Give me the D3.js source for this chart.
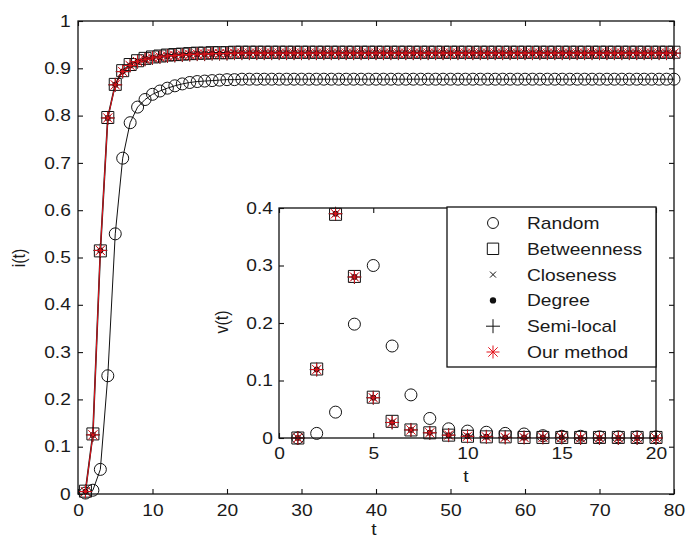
<!DOCTYPE html>
<html>
<head>
<meta charset="utf-8">
<script src="https://cdn.jsdelivr.net/npm/d3@7"></script>
<style>
body { margin: 0; background: #fff; }
text { font-family: "Liberation Sans", Arial, Helvetica, sans-serif; fill: #1a1a1a; }
</style>
</head>
<body>
<svg id="chart"></svg>
<script>
const width = 687;
const height = 540;
const SX = 1.2; // the glyphs in the figure are stretched sideways
const red = "#e3141c";

// ---- data ----
const tMain = [1, 2, 3, 4, 5, 6, 7, 8, 9, 10, 11, 12, 13, 14, 15, 16, 17, 18, 19, 20,
    21, 22, 23, 24, 25, 26, 27, 28, 29, 30, 31, 32, 33, 34, 35, 36, 37, 38, 39, 40,
    41, 42, 43, 44, 45, 46, 47, 48, 49, 50, 51, 52, 53, 54, 55, 56, 57, 58, 59, 60,
    61, 62, 63, 64, 65, 66, 67, 68, 69, 70, 71, 72, 73, 74, 75, 76, 77, 78, 79, 80];

const iRandom = [0.002, 0.008, 0.052, 0.250, 0.550, 0.710, 0.785, 0.818, 0.834, 0.845,
    0.852, 0.858, 0.863, 0.867, 0.870, 0.872, 0.873, 0.874, 0.875, 0.876,
    0.876, 0.877, 0.877, 0.877, 0.877, 0.877, 0.877, 0.877, 0.877, 0.877,
    0.877, 0.877, 0.877, 0.877, 0.877, 0.877, 0.877, 0.877, 0.877, 0.877,
    0.877, 0.877, 0.877, 0.877, 0.877, 0.877, 0.877, 0.877, 0.877, 0.877,
    0.877, 0.877, 0.877, 0.877, 0.877, 0.877, 0.877, 0.877, 0.877, 0.877,
    0.877, 0.877, 0.877, 0.877, 0.877, 0.877, 0.877, 0.877, 0.877, 0.877,
    0.877, 0.877, 0.877, 0.877, 0.877, 0.877, 0.877, 0.877, 0.877, 0.877];

const iBetween = [0.006, 0.127, 0.514, 0.796, 0.866, 0.895, 0.908, 0.916, 0.921, 0.924,
    0.926, 0.928, 0.929, 0.930, 0.931, 0.932, 0.932, 0.933, 0.933, 0.933,
    0.934, 0.934, 0.934, 0.934, 0.934, 0.934, 0.934, 0.934, 0.934, 0.934,
    0.934, 0.934, 0.934, 0.934, 0.934, 0.934, 0.934, 0.934, 0.934, 0.934,
    0.934, 0.934, 0.934, 0.934, 0.934, 0.934, 0.934, 0.934, 0.934, 0.934,
    0.934, 0.934, 0.934, 0.934, 0.934, 0.934, 0.934, 0.934, 0.934, 0.934,
    0.934, 0.934, 0.934, 0.934, 0.934, 0.934, 0.934, 0.934, 0.934, 0.934,
    0.934, 0.934, 0.934, 0.934, 0.934, 0.934, 0.934, 0.934, 0.934, 0.934];

// closeness, degree, semi-local and our method cannot be told apart in the figure
const iOurs = [0.005, 0.125, 0.515, 0.795, 0.865, 0.893, 0.906, 0.914, 0.919, 0.922,
    0.924, 0.926, 0.927, 0.928, 0.929, 0.930, 0.930, 0.931, 0.931, 0.931,
    0.932, 0.932, 0.932, 0.932, 0.932, 0.932, 0.932, 0.932, 0.932, 0.932,
    0.932, 0.932, 0.932, 0.932, 0.932, 0.932, 0.932, 0.932, 0.932, 0.932,
    0.932, 0.932, 0.932, 0.932, 0.932, 0.932, 0.932, 0.932, 0.932, 0.932,
    0.932, 0.932, 0.932, 0.932, 0.932, 0.932, 0.932, 0.932, 0.932, 0.932,
    0.932, 0.932, 0.932, 0.932, 0.932, 0.932, 0.932, 0.932, 0.932, 0.932,
    0.932, 0.932, 0.932, 0.932, 0.932, 0.932, 0.932, 0.932, 0.932, 0.932];

const tInset = [1, 2, 3, 4, 5, 6, 7, 8, 9, 10, 11, 12, 13, 14, 15, 16, 17, 18, 19, 20];
const vRandom = [0, 0.008, 0.045, 0.198, 0.300, 0.160, 0.075, 0.034, 0.016, 0.012,
    0.010, 0.008, 0.007, 0.004, 0.003, 0.003, 0.002, 0.002, 0.002, 0.002];
const vBetween = [0, 0.120, 0.389, 0.281, 0.071, 0.029, 0.014, 0.009, 0.005, 0.003,
    0.002, 0.002, 0.001, 0.001, 0.001, 0.001, 0.001, 0.001, 0.001, 0.001];
const vOurs = [0, 0.119, 0.390, 0.280, 0.070, 0.027, 0.014, 0.009, 0.005, 0.003,
    0.002, 0.001, 0.001, 0.001, 0.001, 0, 0, 0, 0, 0];

const mainXTicks = [0, 10, 20, 30, 40, 50, 60, 70, 80];
const mainYTicks = [0, 0.1, 0.2, 0.3, 0.4, 0.5, 0.6, 0.7, 0.8, 0.9, 1];
const insetXTicks = [0, 5, 10, 15, 20];
const insetYTicks = [0, 0.1, 0.2, 0.3, 0.4];
const legendNames = ["Random", "Betweenness", "Closeness", "Degree", "Semi-local", "Our method"];

// ---- marker shapes ----
function plusPath(s) { return `M${-s},0H${s}M0,${-s}V${s}`; }
function timesPath(s) { return `M${-s},${-s}L${s},${s}M${-s},${s}L${s},${-s}`; }
function starPath(s) { const d = s * 0.72; return plusPath(s) + timesPath(d); }

const markers = [
    { name: "Random", path: d3.symbol(d3.symbolCircle, Math.PI * 36)(), fill: "none", stroke: "#111" },
    { name: "Betweenness", path: d3.symbol(d3.symbolSquare, 144)(), fill: "none", stroke: "#111" },
    { name: "Closeness", path: timesPath(3.2), fill: "none", stroke: "#111" },
    { name: "Degree", path: d3.symbol(d3.symbolCircle, Math.PI * 9)(), fill: "#111", stroke: "none" },
    { name: "Semi-local", path: plusPath(7), fill: "none", stroke: "#111" },
    { name: "Our method", path: starPath(6.5), fill: "none", stroke: red }
];

const svg = d3.select("#chart").attr("width", width).attr("height", height);
svg.append("rect").attr("width", width).attr("height", height).attr("fill", "#fff");

function drawAxes(g, x, y, xt, yt, fmtY, xPad, yPad) {
    const [x0, x1] = x.range();
    const [y0, y1] = y.range();
    g.append("g").attr("transform", `translate(0,${y0})`)
        .call(d3.axisBottom(x).tickValues(xt).tickSizeInner(-5).tickSizeOuter(0).tickPadding(xPad))
        .call(a => a.select(".domain").remove());
    g.append("g").attr("transform", `translate(0,${y1})`)
        .call(d3.axisTop(x).tickValues(xt).tickSizeInner(-5).tickSizeOuter(0).tickFormat(""))
        .call(a => a.select(".domain").remove());
    g.append("g").attr("transform", `translate(${x0},0)`)
        .call(d3.axisLeft(y).tickValues(yt).tickSizeInner(-5).tickSizeOuter(0).tickPadding(yPad).tickFormat(fmtY))
        .call(a => a.select(".domain").remove());
    g.append("g").attr("transform", `translate(${x1},0)`)
        .call(d3.axisRight(y).tickValues(yt).tickSizeInner(-5).tickSizeOuter(0).tickFormat(""))
        .call(a => a.select(".domain").remove());
    g.selectAll(".tick line").attr("stroke", "#111").attr("stroke-width", 1.1);
    g.selectAll(".tick text")
        .attr("font-size", 16)
        .attr("font-family", null)
        .attr("fill", "#1a1a1a")
        .attr("transform", `scale(${SX},1)`);
    g.append("rect")
        .attr("x", x0).attr("y", y1)
        .attr("width", x1 - x0).attr("height", y0 - y1)
        .attr("fill", "none").attr("stroke", "#111").attr("stroke-width", 1.3);
}

function label(g, txt, px, py, rotated) {
    const t = g.append("g")
        .attr("transform", `translate(${px},${py})` + (rotated ? " rotate(-90)" : ""))
        .append("text")
        .attr("text-anchor", "middle")
        .attr("font-size", 16)
        .attr("transform", rotated ? `scale(1,${SX})` : `scale(${SX},1)`)
        .text(txt);
    return t;
}

function drawSeries(g, x, y, ts, vals, m) {
    g.append("g").selectAll("path").data(ts).enter()
        .append("path")
        .attr("transform", (d, i) => `translate(${x(d)},${y(vals[i])})`)
        .attr("d", m.path)
        .attr("fill", m.fill)
        .attr("stroke", m.stroke)
        .attr("stroke-width", 1);
}

// ---- main plot ----
const x = d3.scaleLinear().domain([0, 80]).range([78, 674]);
const y = d3.scaleLinear().domain([0, 1]).range([494, 21]);
const fmtMain = d => (d === 0 || d === 1) ? String(d) : d.toFixed(1);

const main = svg.append("g");
const line = (vals) => d3.line().x((d, i) => x(tMain[i])).y(d => y(d))(vals);

main.append("path").attr("d", line(iRandom)).attr("fill", "none").attr("stroke", "#111").attr("stroke-width", 1);
main.append("path").attr("d", line(iBetween)).attr("fill", "none").attr("stroke", "#111").attr("stroke-width", 1.6);
main.append("path").attr("d", line(iOurs)).attr("fill", "none").attr("stroke", red).attr("stroke-width", 1);

const mainSets = [iRandom, iBetween, iOurs, iOurs, iOurs, iOurs];
markers.forEach((m, k) => drawSeries(main, x, y, tMain, mainSets[k], m));

drawAxes(main, x, y, mainXTicks, mainYTicks, fmtMain, 11, 6);
label(main, "t", 374, 535, false);
label(main, "i(t)", 25, 258, true);

// ---- inset ----
const xi = d3.scaleLinear().domain([0, 20]).range([279, 656]);
const yi = d3.scaleLinear().domain([0, 0.4]).range([438, 208]);
const fmtInset = d => d === 0 ? "0" : d.toFixed(1);

const inset = svg.append("g");
inset.append("rect").attr("x", 279).attr("y", 208).attr("width", 656 - 279).attr("height", 438 - 208).attr("fill", "#fff");

const insetSets = [vRandom, vBetween, vOurs, vOurs, vOurs, vOurs];
markers.forEach((m, k) => drawSeries(inset, xi, yi, tInset, insetSets[k], m));

drawAxes(inset, xi, yi, insetXTicks, insetYTicks, fmtInset, 9.5, 5);
label(inset, "t", 466, 482, false);
label(inset, "v(t)", 228, 322, true);

// ---- legend ----
const legend = svg.append("g");
legend.append("rect")
    .attr("x", 447).attr("y", 207)
    .attr("width", 656 - 447).attr("height", 367 - 207)
    .attr("fill", "#fff").attr("stroke", "#111").attr("stroke-width", 1.3);

const legendMarkers = [
    d3.symbol(d3.symbolCircle, Math.PI * 30)(),
    d3.symbol(d3.symbolSquare, 130)(),
    timesPath(3),
    d3.symbol(d3.symbolCircle, Math.PI * 10)(),
    plusPath(7),
    starPath(6.5)
];

const rows = legend.selectAll("g.row").data(legendNames).enter()
    .append("g")
    .attr("class", "row")
    .attr("transform", (d, i) => `translate(0,${223 + i * 25.8})`);

rows.append("path")
    .attr("transform", "translate(493,0)")
    .attr("d", (d, i) => legendMarkers[i])
    .attr("fill", (d, i) => markers[i].fill)
    .attr("stroke", (d, i) => markers[i].stroke)
    .attr("stroke-width", 1);

rows.append("g")
    .attr("transform", "translate(527,6)")
    .append("text")
    .attr("font-size", 16)
    .attr("transform", `scale(${SX},1)`)
    .text(d => d);
</script>
</body>
</html>
